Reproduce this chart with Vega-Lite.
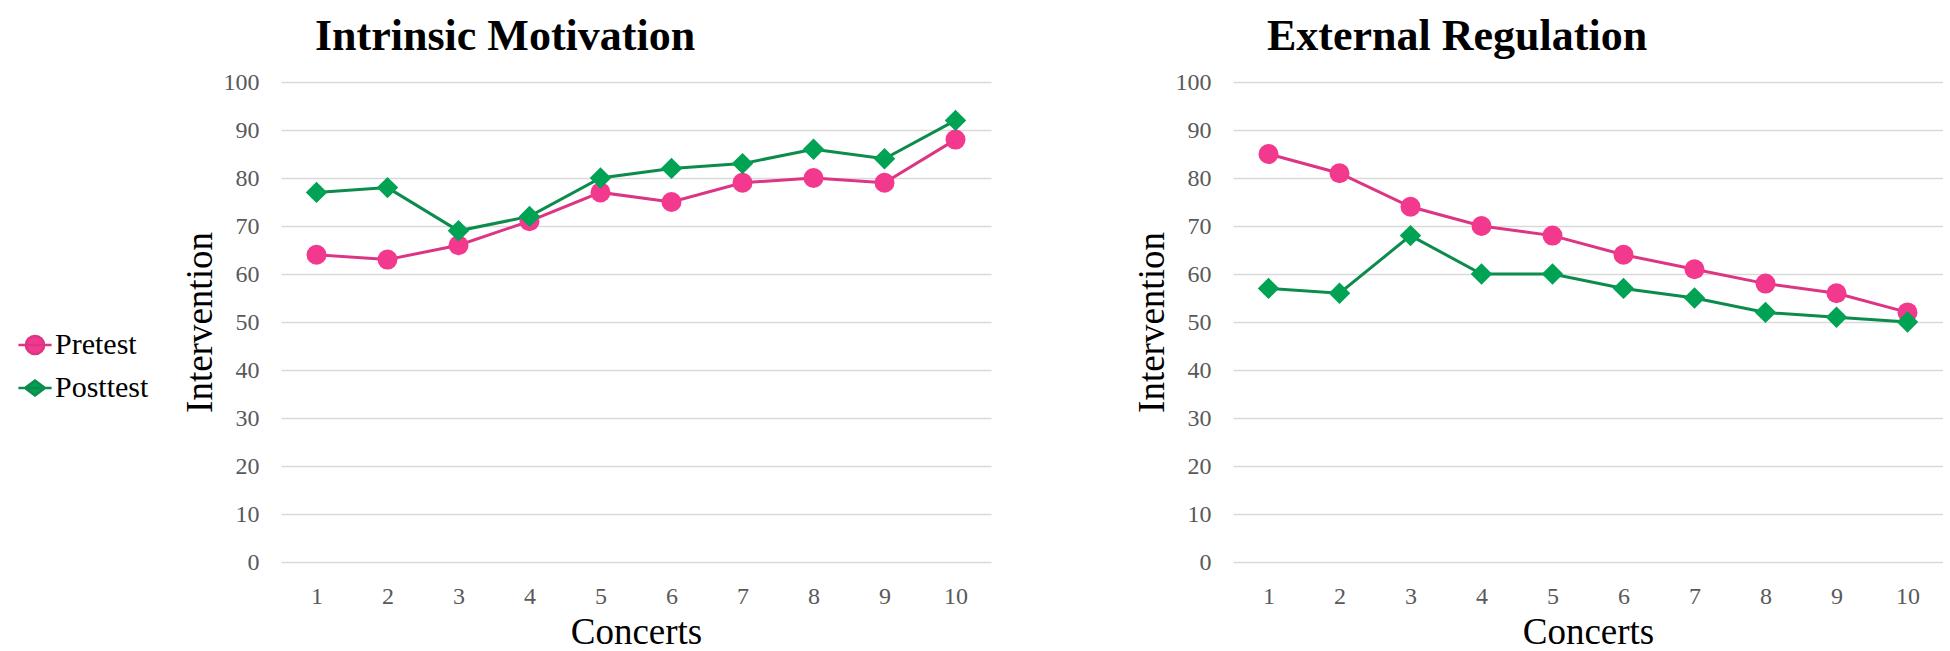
{
  "$schema": "https://vega.github.io/schema/vega-lite/v6.json",
  "background": "white",
  "padding": {"left": 17, "top": 15, "right": 0, "bottom": 0},
  "bounds": "flush",
  "spacing": 242,
  "data": {
    "values": [
      {"panel": "Intrinsic Motivation", "series": "Pretest", "concert": 1, "value": 64},
      {"panel": "Intrinsic Motivation", "series": "Pretest", "concert": 2, "value": 63},
      {"panel": "Intrinsic Motivation", "series": "Pretest", "concert": 3, "value": 66},
      {"panel": "Intrinsic Motivation", "series": "Pretest", "concert": 4, "value": 71},
      {"panel": "Intrinsic Motivation", "series": "Pretest", "concert": 5, "value": 77},
      {"panel": "Intrinsic Motivation", "series": "Pretest", "concert": 6, "value": 75},
      {"panel": "Intrinsic Motivation", "series": "Pretest", "concert": 7, "value": 79},
      {"panel": "Intrinsic Motivation", "series": "Pretest", "concert": 8, "value": 80},
      {"panel": "Intrinsic Motivation", "series": "Pretest", "concert": 9, "value": 79},
      {"panel": "Intrinsic Motivation", "series": "Pretest", "concert": 10, "value": 88},
      {"panel": "Intrinsic Motivation", "series": "Posttest", "concert": 1, "value": 77},
      {"panel": "Intrinsic Motivation", "series": "Posttest", "concert": 2, "value": 78},
      {"panel": "Intrinsic Motivation", "series": "Posttest", "concert": 3, "value": 69},
      {"panel": "Intrinsic Motivation", "series": "Posttest", "concert": 4, "value": 72},
      {"panel": "Intrinsic Motivation", "series": "Posttest", "concert": 5, "value": 80},
      {"panel": "Intrinsic Motivation", "series": "Posttest", "concert": 6, "value": 82},
      {"panel": "Intrinsic Motivation", "series": "Posttest", "concert": 7, "value": 83},
      {"panel": "Intrinsic Motivation", "series": "Posttest", "concert": 8, "value": 86},
      {"panel": "Intrinsic Motivation", "series": "Posttest", "concert": 9, "value": 84},
      {"panel": "Intrinsic Motivation", "series": "Posttest", "concert": 10, "value": 92},
      {"panel": "External Regulation", "series": "Pretest", "concert": 1, "value": 85},
      {"panel": "External Regulation", "series": "Pretest", "concert": 2, "value": 81},
      {"panel": "External Regulation", "series": "Pretest", "concert": 3, "value": 74},
      {"panel": "External Regulation", "series": "Pretest", "concert": 4, "value": 70},
      {"panel": "External Regulation", "series": "Pretest", "concert": 5, "value": 68},
      {"panel": "External Regulation", "series": "Pretest", "concert": 6, "value": 64},
      {"panel": "External Regulation", "series": "Pretest", "concert": 7, "value": 61},
      {"panel": "External Regulation", "series": "Pretest", "concert": 8, "value": 58},
      {"panel": "External Regulation", "series": "Pretest", "concert": 9, "value": 56},
      {"panel": "External Regulation", "series": "Pretest", "concert": 10, "value": 52},
      {"panel": "External Regulation", "series": "Posttest", "concert": 1, "value": 57},
      {"panel": "External Regulation", "series": "Posttest", "concert": 2, "value": 56},
      {"panel": "External Regulation", "series": "Posttest", "concert": 3, "value": 68},
      {"panel": "External Regulation", "series": "Posttest", "concert": 4, "value": 60},
      {"panel": "External Regulation", "series": "Posttest", "concert": 5, "value": 60},
      {"panel": "External Regulation", "series": "Posttest", "concert": 6, "value": 57},
      {"panel": "External Regulation", "series": "Posttest", "concert": 7, "value": 55},
      {"panel": "External Regulation", "series": "Posttest", "concert": 8, "value": 52},
      {"panel": "External Regulation", "series": "Posttest", "concert": 9, "value": 51},
      {"panel": "External Regulation", "series": "Posttest", "concert": 10, "value": 50}
    ]
  },
  "hconcat": [
    {
      "title": {"text": "Intrinsic Motivation"},
      "width": 710,
      "height": 480,
      "transform": [{"filter": "datum.panel === 'Intrinsic Motivation'"}],
      "encoding": {
        "x": {"field": "concert", "type": "ordinal", "scale": {"type": "point", "padding": 0.5}, "axis": {"title": "Concerts"}},
        "y": {"field": "value", "type": "quantitative", "scale": {"domain": [0, 100]}, "axis": {"title": "Intervention", "values": [0, 10, 20, 30, 40, 50, 60, 70, 80, 90, 100]}}
      },
      "layer": [
        {
          "mark": {"type": "line", "strokeWidth": 3},
          "encoding": {
            "color": {
              "field": "series", "type": "nominal",
              "scale": {"domain": ["Pretest", "Posttest"], "range": ["#DB3584", "#0B8C4C"]},
              "legend": {
                "orient": "none", "legendX": -264, "legendY": 245, "title": null, "padding": 0,
                "labelFont": "Liberation Serif", "labelFontSize": 30, "labelColor": "black", "labelOffset": 2,
                "symbolSize": 1100, "symbolStrokeWidth": 2.5, "rowPadding": 10,
                "encode": {
                  "symbols": {
                    "update": {
                      "shape": {"signal": "datum.value === 'Pretest' ? 'M-1,0H1M-0.55,0A0.55,0.55 0 1,0 0.55,0A0.55,0.55 0 1,0 -0.55,0Z' : 'M-1,0H1M-0.6,0L0,-0.45L0.6,0L0,0.45Z'"},
                      "fill": {"signal": "datum.value === 'Pretest' ? '#F2398D' : '#00A253'"},
                      "stroke": {"signal": "datum.value === 'Pretest' ? '#DB3584' : '#0B8C4C'"},
                      "fillOpacity": {"value": 1},
                      "opacity": {"value": 1}
                    }
                  }
                }
              }
            }
          }
        },
        {
          "transform": [{"filter": "datum.series === 'Pretest'"}],
          "mark": {"type": "point", "shape": "circle", "filled": true, "opacity": 1, "size": 400, "color": "#F2398D"}
        },
        {
          "transform": [{"filter": "datum.series === 'Posttest'"}],
          "mark": {"type": "point", "shape": "diamond", "filled": true, "opacity": 1, "size": 460, "color": "#00A253"}
        }
      ]
    },
    {
      "title": {"text": "External Regulation"},
      "width": 710,
      "height": 480,
      "transform": [{"filter": "datum.panel === 'External Regulation'"}],
      "encoding": {
        "x": {"field": "concert", "type": "ordinal", "scale": {"type": "point", "padding": 0.5}, "axis": {"title": "Concerts"}},
        "y": {"field": "value", "type": "quantitative", "scale": {"domain": [0, 100]}, "axis": {"title": "Intervention", "values": [0, 10, 20, 30, 40, 50, 60, 70, 80, 90, 100]}}
      },
      "layer": [
        {
          "mark": {"type": "line", "strokeWidth": 3},
          "encoding": {
            "color": {"field": "series", "type": "nominal", "scale": {"domain": ["Pretest", "Posttest"], "range": ["#DB3584", "#0B8C4C"]}}
          }
        },
        {
          "transform": [{"filter": "datum.series === 'Pretest'"}],
          "mark": {"type": "point", "shape": "circle", "filled": true, "opacity": 1, "size": 400, "color": "#F2398D"}
        },
        {
          "transform": [{"filter": "datum.series === 'Posttest'"}],
          "mark": {"type": "point", "shape": "diamond", "filled": true, "opacity": 1, "size": 460, "color": "#00A253"}
        }
      ]
    }
  ],
  "config": {
    "font": "Liberation Serif",
    "view": {"stroke": null},
    "title": {
      "font": "Liberation Serif", "fontSize": 44, "fontWeight": "bold", "color": "black",
      "anchor": "start", "frame": "group", "dx": 34, "offset": 11, "baseline": "alphabetic"
    },
    "axis": {
      "labelFont": "Liberation Serif", "labelFontSize": 24, "labelColor": "#595959",
      "titleFont": "Liberation Serif", "titleFontSize": 37, "titleFontWeight": "normal", "titleColor": "black",
      "ticks": false, "domain": false, "gridColor": "#D9D9D9", "gridWidth": 1.5
    },
    "axisX": {"grid": false, "labelAngle": 0, "labelPadding": 22, "titlePadding": 6},
    "axisY": {"grid": true, "labelPadding": 22, "titlePadding": 4}
  }
}
